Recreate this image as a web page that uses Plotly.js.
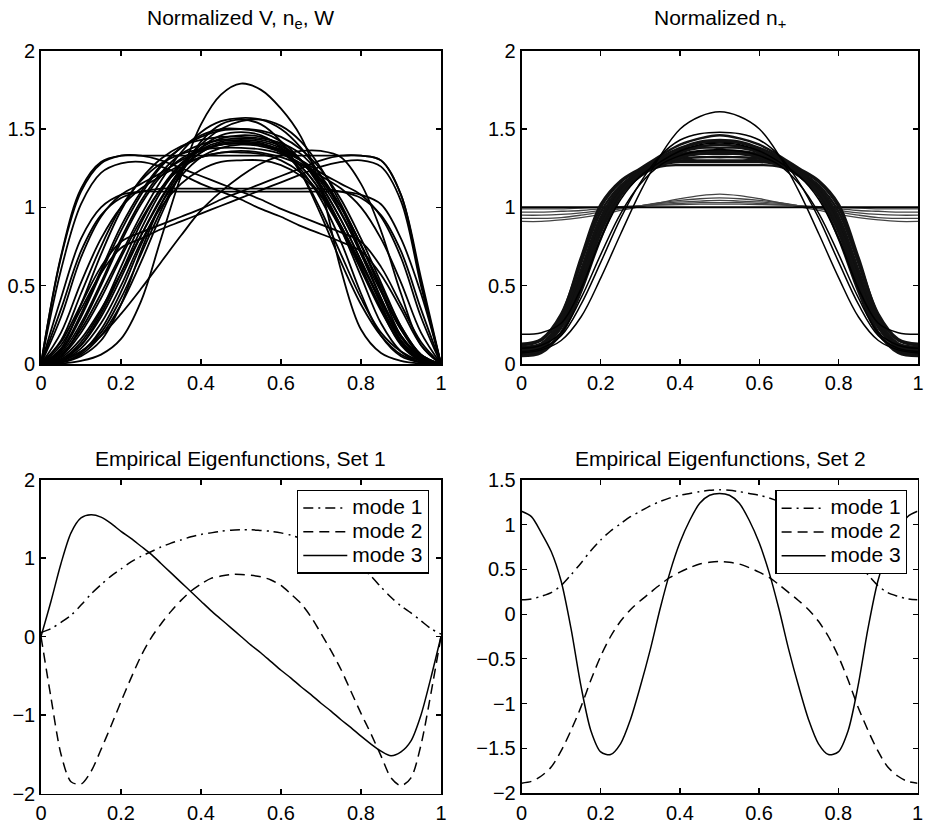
<!DOCTYPE html>
<html><head><meta charset="utf-8">
<script src="https://cdn.plot.ly/plotly-3.0.1.min.js"></script>
<style>html,body{margin:0;padding:0;background:#fff}#chart{width:926px;height:822px}</style>
</head><body><div id="chart"></div>
<script>
// ---------- x grids ----------
const xCoarse = [0,0.05,0.1,0.15,0.2,0.25,0.3,0.35,0.4,0.45,0.5,0.55,0.6,0.65,0.7,0.75,0.8,0.85,0.9,0.95,1];
const xFine = [0,0.025,0.05,0.075,0.1,0.125,0.15,0.175,0.2,0.225,0.25,0.275,0.3,0.325,0.35,0.375,0.4,0.425,0.45,0.475,0.5,
               0.525,0.55,0.575,0.6,0.625,0.65,0.675,0.7,0.725,0.75,0.775,0.8,0.825,0.85,0.875,0.9,0.925,0.95,0.975,1];

// ---------- titles / ticks ----------
const panelTitles = ["Normalized V, n<sub>e</sub>, W", "Normalized n<sub>+</sub>",
                     "Empirical Eigenfunctions, Set 1", "Empirical Eigenfunctions, Set 2"];
const xTicks = [0,0.2,0.4,0.6,0.8,1];
const yTicksTop = [0,0.5,1,1.5,2];
const yTicksSet1 = [-2,-1,0,1,2];
const yTicksSet2 = [-2,-1.5,-1,-0.5,0,0.5,1,1.5];
const modeNames = ["mode 1","mode 2","mode 3"];

// ---------- top-left: normalized V, n_e, W ----------
const tlBell      = [0,0.003,0.02,0.06,0.16,0.4,0.8,1.2,1.53,1.72,1.79,1.75,1.63,1.45,1.12,0.6,0.22,0.07,0.02,0.003,0];
const tlFlat133   = [0,0.69,1.12,1.29,1.33,1.33,1.33,1.33,1.33,1.33,1.33,1.33,1.33,1.33,1.33,1.33,1.33,1.3,1.08,0.52,0];
const tlRampDown1 = [0,0.68,1.1,1.28,1.33,1.33,1.3,1.25,1.2,1.15,1.1,1.05,0.99,0.94,0.89,0.84,0.78,0.62,0.38,0.14,0];
const tlRampDown2 = [0,0.6,1.02,1.22,1.28,1.29,1.26,1.21,1.15,1.1,1.05,0.99,0.94,0.88,0.83,0.78,0.72,0.57,0.35,0.12,0];
const tlRampUp1   = [0,0.14,0.38,0.62,0.78,0.84,0.89,0.94,0.99,1.05,1.1,1.15,1.2,1.25,1.3,1.33,1.33,1.3,1.08,0.55,0];
const tlRampUp2   = [0,0.12,0.35,0.58,0.74,0.8,0.86,0.91,0.96,1.01,1.06,1.11,1.16,1.21,1.26,1.29,1.3,1.26,1.04,0.5,0];
const tlPlateau1  = [0,0.42,0.8,1.0,1.08,1.1,1.1,1.1,1.1,1.1,1.1,1.1,1.1,1.1,1.1,1.1,1.08,1.02,0.8,0.45,0];
const tlPlateau2  = [0,0.35,0.72,0.95,1.06,1.1,1.12,1.12,1.12,1.12,1.12,1.12,1.12,1.12,1.12,1.1,1.06,0.95,0.72,0.35,0];
const tlHump1  = [0,0.06,0.22,0.45,0.7,0.95,1.17,1.35,1.48,1.55,1.57,1.56,1.5,1.38,1.2,0.97,0.72,0.46,0.22,0.06,0];
const tlHump2  = [0,0.04,0.16,0.35,0.58,0.82,1.05,1.25,1.4,1.5,1.55,1.56,1.52,1.42,1.25,1.02,0.76,0.48,0.22,0.05,0];
const tlHump3  = [0,0.08,0.3,0.58,0.85,1.08,1.26,1.38,1.46,1.5,1.5,1.48,1.42,1.3,1.12,0.88,0.62,0.35,0.12,0.02,0];
const tlHump4  = [0,0.1,0.38,0.7,0.98,1.18,1.31,1.39,1.43,1.45,1.45,1.44,1.41,1.34,1.2,1.0,0.72,0.42,0.15,0.03,0];
const tlHump5  = [0,0.03,0.12,0.3,0.55,0.82,1.06,1.24,1.35,1.41,1.42,1.41,1.36,1.26,1.1,0.88,0.62,0.36,0.15,0.03,0];
const tlHump6  = [0,0.15,0.45,0.75,1.0,1.17,1.28,1.34,1.37,1.38,1.38,1.37,1.34,1.28,1.17,1.0,0.76,0.47,0.18,0.04,0];
const tlHump7  = [0,0.05,0.2,0.42,0.68,0.92,1.12,1.25,1.32,1.35,1.35,1.34,1.3,1.22,1.08,0.88,0.64,0.4,0.18,0.05,0];
const tlHump8  = [0,0.02,0.1,0.26,0.5,0.78,1.0,1.15,1.24,1.29,1.3,1.3,1.27,1.2,1.07,0.86,0.6,0.34,0.13,0.03,0];
const tlHump9  = [0,0.01,0.05,0.15,0.38,0.72,1.02,1.23,1.35,1.4,1.41,1.4,1.35,1.24,1.05,0.78,0.45,0.18,0.05,0.01,0];
const tlHump10 = [0,0.02,0.08,0.2,0.42,0.7,0.98,1.22,1.38,1.46,1.48,1.46,1.38,1.22,0.98,0.7,0.42,0.2,0.08,0.02,0];
const tlHump11 = [0,0.07,0.26,0.52,0.8,1.04,1.22,1.34,1.4,1.43,1.44,1.43,1.39,1.3,1.14,0.92,0.66,0.4,0.17,0.04,0];
const tlHump12 = [0,0.03,0.14,0.34,0.62,0.9,1.12,1.28,1.38,1.44,1.46,1.45,1.4,1.3,1.14,0.92,0.66,0.38,0.14,0.02,0];
const tlHump13 = [0,0.02,0.12,0.32,0.58,0.86,1.1,1.27,1.37,1.42,1.43,1.42,1.38,1.3,1.16,0.96,0.7,0.42,0.18,0.04,0];
const tlHump14 = [0,0.05,0.24,0.5,0.78,1.02,1.2,1.31,1.37,1.4,1.41,1.4,1.37,1.3,1.18,1.0,0.76,0.5,0.24,0.06,0];
const tlHump15 = [0,0.01,0.07,0.22,0.46,0.76,1.02,1.2,1.32,1.38,1.4,1.39,1.35,1.26,1.1,0.86,0.56,0.26,0.08,0.01,0];
const tlHump16 = [0,0.09,0.32,0.6,0.88,1.1,1.27,1.38,1.45,1.49,1.5,1.49,1.45,1.37,1.24,1.05,0.8,0.52,0.24,0.06,0];
const tlHump17 = [0,0.01,0.06,0.18,0.38,0.65,0.95,1.22,1.42,1.53,1.56,1.53,1.42,1.22,0.95,0.65,0.38,0.18,0.06,0.01,0];
const tlShoulder1 = [0,0.3,0.68,0.94,1.08,1.15,1.22,1.3,1.36,1.4,1.41,1.4,1.36,1.3,1.22,1.15,1.08,0.94,0.68,0.3,0];
const tlShoulder2 = [0,0.2,0.52,0.8,1.0,1.12,1.2,1.27,1.32,1.35,1.36,1.35,1.32,1.27,1.2,1.12,1.0,0.8,0.52,0.2,0];
const tlSkew   = [0,0.02,0.08,0.18,0.32,0.48,0.65,0.82,0.98,1.1,1.2,1.28,1.33,1.36,1.36,1.32,1.15,0.85,0.45,0.12,0];
const tlCurves = [tlBell,tlFlat133,tlRampDown1,tlRampDown2,tlRampUp1,tlRampUp2,tlPlateau1,tlPlateau2,
                  tlHump1,tlHump2,tlHump3,tlHump4,tlHump5,tlHump6,tlHump7,tlHump8,tlHump9,tlHump10,tlHump11,tlHump12,
                  tlHump13,tlHump14,tlHump15,tlHump16,tlHump17,tlShoulder1,tlShoulder2,tlSkew];

// ---------- top-right: normalized n+ ----------
const trBundle1  = [0.06,0.08,0.2,0.48,0.84,1.1,1.21,1.26,1.27,1.27,1.27,1.27,1.27,1.26,1.21,1.1,0.84,0.48,0.2,0.08,0.06];
const trBundle2  = [0.08,0.1,0.24,0.56,0.9,1.11,1.22,1.28,1.31,1.32,1.32,1.32,1.31,1.28,1.22,1.11,0.9,0.56,0.24,0.1,0.08];
const trBundle3  = [0.09,0.11,0.25,0.57,0.91,1.12,1.23,1.3,1.34,1.36,1.36,1.36,1.34,1.3,1.23,1.12,0.91,0.57,0.25,0.11,0.09];
const trBundle4  = [0.1,0.12,0.26,0.58,0.92,1.12,1.23,1.31,1.36,1.39,1.4,1.39,1.36,1.31,1.23,1.12,0.92,0.58,0.26,0.12,0.1];
const trBundle5  = [0.11,0.13,0.27,0.6,0.94,1.13,1.24,1.32,1.38,1.42,1.43,1.42,1.38,1.32,1.24,1.13,0.94,0.6,0.27,0.13,0.11];
const trBundle6  = [0.12,0.15,0.31,0.68,1.02,1.17,1.25,1.33,1.4,1.44,1.46,1.44,1.4,1.33,1.25,1.17,1.02,0.68,0.31,0.15,0.12];
const trBundle7  = [0.07,0.09,0.2,0.5,0.84,1.08,1.2,1.27,1.3,1.3,1.3,1.3,1.3,1.27,1.2,1.08,0.84,0.5,0.2,0.09,0.07];
const trBundle8  = [0.13,0.16,0.32,0.66,1.0,1.16,1.24,1.29,1.33,1.35,1.35,1.35,1.33,1.29,1.24,1.16,1.0,0.66,0.32,0.16,0.13];
const trBundle9  = [0.05,0.07,0.2,0.52,0.86,1.1,1.21,1.28,1.32,1.34,1.34,1.34,1.32,1.28,1.21,1.1,0.86,0.52,0.2,0.07,0.05];
const trBundle10 = [0.09,0.11,0.23,0.54,0.88,1.1,1.22,1.29,1.35,1.38,1.38,1.38,1.35,1.29,1.22,1.1,0.88,0.54,0.23,0.11,0.09];
const trBundle11 = [0.1,0.13,0.29,0.64,0.97,1.14,1.23,1.3,1.37,1.41,1.42,1.41,1.37,1.3,1.23,1.14,0.97,0.64,0.29,0.13,0.1];
const trBundle12 = [0.07,0.09,0.19,0.46,0.8,1.07,1.2,1.27,1.29,1.29,1.29,1.29,1.29,1.27,1.2,1.07,0.8,0.46,0.19,0.09,0.07];
const trPeak160  = [0.07,0.09,0.15,0.3,0.55,0.83,1.1,1.33,1.5,1.58,1.61,1.58,1.5,1.33,1.1,0.83,0.55,0.3,0.15,0.09,0.07];
const trPeak148  = [0.08,0.1,0.18,0.38,0.65,0.93,1.16,1.33,1.43,1.47,1.48,1.47,1.43,1.33,1.16,0.93,0.65,0.38,0.18,0.1,0.08];
const trPeak137  = [0.1,0.12,0.2,0.42,0.7,0.96,1.15,1.27,1.33,1.36,1.37,1.36,1.33,1.27,1.15,0.96,0.7,0.42,0.2,0.12,0.1];
const trHighEdge = [0.19,0.2,0.26,0.48,0.8,1.05,1.2,1.29,1.36,1.4,1.41,1.4,1.36,1.29,1.2,1.05,0.8,0.48,0.26,0.2,0.19];
const trFlat1 = [1,1,1,1,1,1,1,1,1,1,1,1,1,1,1,1,1,1,1,1,1];
const trFlat2 = [0.97,0.97,0.975,0.98,0.99,1.0,1.01,1.02,1.025,1.03,1.03,1.03,1.025,1.02,1.01,1.0,0.99,0.98,0.975,0.97,0.97];
const trFlat3 = [0.95,0.95,0.955,0.965,0.98,0.995,1.01,1.025,1.035,1.04,1.045,1.04,1.035,1.025,1.01,0.995,0.98,0.965,0.955,0.95,0.95];
const trFlat4 = [0.93,0.93,0.935,0.95,0.97,0.99,1.01,1.03,1.045,1.055,1.06,1.055,1.045,1.03,1.01,0.99,0.97,0.95,0.935,0.93,0.93];
const trFlat5 = [0.91,0.91,0.92,0.935,0.955,0.98,1.005,1.03,1.055,1.075,1.085,1.075,1.055,1.03,1.005,0.98,0.955,0.935,0.92,0.91,0.91];
const trFlat6 = [0.99,0.99,0.99,0.995,1.0,1.005,1.01,1.015,1.018,1.02,1.02,1.02,1.018,1.015,1.01,1.005,1.0,0.995,0.99,0.99,0.99];
const trBundle = [trBundle1,trBundle2,trBundle3,trBundle4,trBundle5,trBundle6,trBundle7,trBundle8,trBundle9,trBundle10,trBundle11,trBundle12];
const trThin = [trPeak160,trPeak148,trPeak137,trHighEdge];
const trFlat = [trFlat2,trFlat3,trFlat4,trFlat5,trFlat6];

// ---------- bottom-left: eigenfunctions set 1 ----------
const set1Mode1 = [0.05,0.1,0.18,0.27,0.4,0.54,0.66,0.77,0.86,0.95,1.02,1.08,1.14,1.19,1.23,1.27,1.3,1.32,1.34,1.355,1.36,
                   1.36,1.35,1.34,1.32,1.29,1.25,1.2,1.14,1.07,1.0,0.94,0.88,0.77,0.63,0.5,0.39,0.3,0.2,0.1,0.03];
const set1Mode2 = [0,-0.78,-1.5,-1.85,-1.88,-1.72,-1.44,-1.14,-0.83,-0.53,-0.25,-0.02,0.16,0.32,0.46,0.58,0.67,0.74,0.77,0.79,0.79,
                   0.78,0.76,0.72,0.65,0.54,0.42,0.25,0.04,-0.18,-0.42,-0.7,-0.98,-1.24,-1.52,-1.8,-1.9,-1.8,-1.38,-0.72,0];
const set1Mode3 = [0,0.45,0.93,1.32,1.51,1.55,1.52,1.44,1.34,1.25,1.15,1.05,0.93,0.81,0.69,0.57,0.45,0.33,0.22,0.11,0,
                   -0.11,-0.21,-0.32,-0.43,-0.53,-0.64,-0.74,-0.85,-0.95,-1.06,-1.16,-1.27,-1.37,-1.46,-1.52,-1.47,-1.33,-1.0,-0.52,0];

// ---------- bottom-right: eigenfunctions set 2 ----------
const set2Mode1 = [0.16,0.17,0.2,0.24,0.32,0.44,0.57,0.71,0.83,0.93,1.01,1.09,1.15,1.21,1.26,1.3,1.33,1.35,1.37,1.385,1.39,
                   1.385,1.37,1.35,1.33,1.3,1.26,1.21,1.15,1.09,1.01,0.93,0.83,0.71,0.57,0.44,0.32,0.24,0.2,0.17,0.16];
const set2Mode2 = [-1.89,-1.87,-1.81,-1.71,-1.53,-1.3,-1.04,-0.74,-0.47,-0.25,-0.08,0.05,0.15,0.24,0.33,0.41,0.47,0.52,0.56,0.58,0.59,
                   0.58,0.56,0.52,0.47,0.41,0.33,0.24,0.15,0.05,-0.08,-0.25,-0.47,-0.74,-1.04,-1.3,-1.53,-1.71,-1.81,-1.87,-1.89];
const set2Mode3 = [1.15,1.09,0.91,0.7,0.37,-0.16,-0.8,-1.3,-1.54,-1.57,-1.45,-1.18,-0.81,-0.4,0.06,0.47,0.8,1.05,1.24,1.33,1.35,
                   1.33,1.24,1.05,0.8,0.47,0.06,-0.4,-0.81,-1.18,-1.45,-1.57,-1.54,-1.3,-0.8,-0.16,0.37,0.7,0.91,1.09,1.15];

// ---------- build traces ----------
const FONT = "Liberation Sans, Arial, Helvetica, sans-serif";
const traces = [];
tlCurves.forEach(c => traces.push({x:xCoarse, y:c, xaxis:'x', yaxis:'y', mode:'lines', showlegend:false,
  hoverinfo:'skip', line:{color:'#000', width:1.8, shape:'spline', smoothing:1}}));
trFlat.forEach(c => traces.push({x:xCoarse, y:c, xaxis:'x2', yaxis:'y2', mode:'lines', showlegend:false,
  hoverinfo:'skip', line:{color:'#444', width:1.3, shape:'spline', smoothing:1}}));
traces.push({x:xCoarse, y:trFlat1, xaxis:'x2', yaxis:'y2', mode:'lines', showlegend:false,
  hoverinfo:'skip', line:{color:'#000', width:2}});
trBundle.forEach(c => traces.push({x:xCoarse, y:c, xaxis:'x2', yaxis:'y2', mode:'lines', showlegend:false,
  hoverinfo:'skip', line:{color:'#111', width:2.4, shape:'spline', smoothing:1}}));
trThin.forEach(c => traces.push({x:xCoarse, y:c, xaxis:'x2', yaxis:'y2', mode:'lines', showlegend:false,
  hoverinfo:'skip', line:{color:'#000', width:1.5, shape:'spline', smoothing:1}}));

const dashes = ["10px,5px,2px,5px", "10px,6px", "solid"];
const legendLabel = n => '<span style="font-size:21px">' + n + '</span>';
[set1Mode1,set1Mode2,set1Mode3].forEach((c,i) => traces.push({x:xFine, y:c, xaxis:'x3', yaxis:'y3', mode:'lines',
  name:legendLabel(modeNames[i]), legend:'legend', hoverinfo:'skip', line:{color:'#000', width:1.5, dash:dashes[i], shape:'spline', smoothing:0.8}}));
[set2Mode1,set2Mode2,set2Mode3].forEach((c,i) => traces.push({x:xFine, y:c, xaxis:'x4', yaxis:'y4', mode:'lines',
  name:legendLabel(modeNames[i]), legend:'legend2', hoverinfo:'skip', line:{color:'#000', width:1.5, dash:dashes[i], shape:'spline', smoothing:0.8}}));

// ---------- axes ----------
const W = 926, H = 822;
function xAx(l, r, anchor, standoff){
  return {domain:[l/W, r/W], range:[0,1], anchor:anchor, tickvals:xTicks, ticks:'inside', ticklen:5, tickwidth:1.2,
    tickcolor:'#000', showline:true, linecolor:'#000', linewidth:1.8, mirror:'ticks', showgrid:false, zeroline:false,
    tickfont:{family:FONT, size:20, color:'#000'}, ticklabelstandoff:standoff, automargin:false, fixedrange:true};
}
function yAx(top, bottom, range, vals, anchor){
  return {domain:[(H-bottom)/H, (H-top)/H], range:range, anchor:anchor, tickvals:vals, ticks:'inside', ticklen:5, tickwidth:1.2,
    tickcolor:'#000', showline:true, linecolor:'#000', linewidth:1.8, mirror:'ticks', showgrid:false, zeroline:false,
    tickfont:{family:FONT, size:20, color:'#000'}, ticklabelstandoff:0, automargin:false, fixedrange:true};
}

function titleAnn(text, xc, yc){
  return {text:text, xref:'paper', yref:'paper', x:xc/W, y:(H-yc)/H, xanchor:'center', yanchor:'middle',
    showarrow:false, font:{family:FONT, size:21, color:'#000'}};
}

const legendStyle = {bgcolor:'#fff', bordercolor:'#000', borderwidth:1.3, font:{family:FONT, size:16, color:'#000'},
  xanchor:'right', yanchor:'top', traceorder:'normal', tracegroupgap:0, itemwidth:44, itemclick:false, itemdoubleclick:false};

const layout = {
  width:W, height:H, margin:{l:0,r:0,t:0,b:0}, paper_bgcolor:'#fff', plot_bgcolor:'#fff',
  showlegend:true,
  xaxis: xAx(41, 441, 'y', 0),
  yaxis: yAx(50.7, 364, [0,2], yTicksTop, 'x'),
  xaxis2: xAx(521.5, 918, 'y2', 0),
  yaxis2: yAx(50.7, 364, [0,2], yTicksTop, 'x2'),
  xaxis3: xAx(41, 441, 'y3', 1),
  yaxis3: yAx(479.5, 793.5, [-2,2], yTicksSet1, 'x3'),
  xaxis4: xAx(521.5, 917.5, 'y4', 1),
  yaxis4: yAx(480, 793, [-2,1.5], yTicksSet2, 'x4'),
  legend: Object.assign({x:429/W, y:(H-489.7)/H}, legendStyle),
  legend2: Object.assign({x:907.3/W, y:(H-490)/H}, legendStyle),
  annotations:[
    titleAnn(panelTitles[0], 241, 19),
    titleAnn(panelTitles[1], 720, 19),
    titleAnn(panelTitles[2], 241, 458),
    titleAnn(panelTitles[3], 720, 458)
  ]
};

Plotly.newPlot('chart', traces, layout, {staticPlot:true, displayModeBar:false});
</script>
</body></html>
